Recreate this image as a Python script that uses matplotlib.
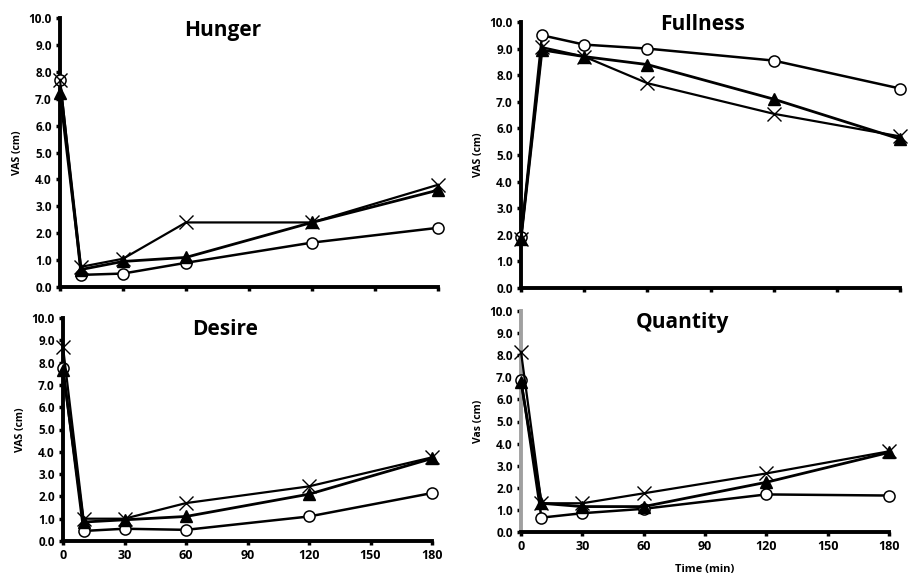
import matplotlib.pyplot as plt

plt.rcParams['font.family'] = ['Open Sans', 'DejaVu Sans']

# time points (min)
times = [0, 10, 30, 60, 120, 180]

# Hunger
hunger_circle = [7.7, 0.45, 0.5, 0.9, 1.65, 2.2]
hunger_triangle = [7.2, 0.65, 0.95, 1.1, 2.4, 3.6]
hunger_cross = [7.7, 0.75, 1.05, 2.4, 2.4, 3.8]

# Fullness
full_circle = [1.9, 9.5, 9.15, 9.0, 8.55, 7.5]
full_triangle = [1.85, 8.95, 8.7, 8.4, 7.1, 5.6]
full_cross = [1.85, 9.05, 8.7, 7.7, 6.55, 5.7]

# Desire
desire_circle = [7.75, 0.45, 0.55, 0.5, 1.1, 2.15]
desire_triangle = [7.65, 0.85, 0.95, 1.1, 2.1, 3.7]
desire_cross = [8.7, 1.0, 1.0, 1.7, 2.45, 3.75]

# Quantity
qty_circle = [6.9, 0.65, 0.85, 1.05, 1.7, 1.65]
qty_triangle = [6.8, 1.3, 1.15, 1.15, 2.25, 3.6]
qty_cross = [8.15, 1.3, 1.3, 1.75, 2.65, 3.65]

xticks = [0, 30, 60, 90, 120, 150, 180]
yticks = [0, 1, 2, 3, 4, 5, 6, 7, 8, 9, 10]

W, H = 908, 574
fig = plt.figure(figsize=(W / 100, H / 100), dpi=100)


def make_ax(x0, x1, y0, y1):
    # pixel box (top-origin) -> figure fraction
    return fig.add_axes([x0 / W, 1 - y1 / H, (x1 - x0) / W, (y1 - y0) / H])


def panel(ax, circ, tri, cross, title, tx, ty, ylabel, show_xlabels, spine_col='black'):
    ax.plot(times, circ, color='black', lw=1.8, marker='o', ms=8, mfc='white',
            mew=1.1, clip_on=False, zorder=3)
    ax.plot(times, tri, color='black', lw=2.0, marker='^', ms=8,
            clip_on=False, zorder=4)
    ax.plot(times, cross, color='black', lw=1.6, marker='x', ms=10, mew=1.0,
            clip_on=False, zorder=5)
    ax.set_xlim(0, 180)
    ax.set_ylim(0, 10)
    ax.set_xticks(xticks)
    ax.set_yticks(yticks)
    ax.set_yticklabels(['%.1f' % v for v in yticks], fontsize=8.5, fontweight='bold')
    if show_xlabels:
        ax.set_xticklabels([str(v) for v in xticks], fontsize=9, fontweight='bold')
    else:
        ax.set_xticklabels([])
    ax.tick_params(axis='both', direction='out', length=3, width=2.5, pad=3)
    for s in ['top', 'right']:
        ax.spines[s].set_visible(False)
    ax.spines['bottom'].set_linewidth(2.8)
    ax.spines['left'].set_linewidth(2.8)
    ax.spines['left'].set_color(spine_col)
    ax.set_ylabel(ylabel, fontsize=7.5, fontweight='bold', labelpad=4)
    ax.text(tx, ty, title, transform=ax.transAxes, ha='center', va='center',
            fontsize=15, fontweight='bold')


ax1 = make_ax(60, 438, 18, 287)
panel(ax1, hunger_circle, hunger_triangle, hunger_cross, 'Hunger', 0.43, 0.955,
      'VAS (cm)', False)

ax2 = make_ax(521, 900, 22, 288)
panel(ax2, full_circle, full_triangle, full_cross, 'Fullness', 0.48, 0.99,
      'VAS (cm)', False)

ax3 = make_ax(63, 432, 318, 541)
panel(ax3, desire_circle, desire_triangle, desire_cross, 'Desire', 0.44, 0.95,
      'VAS (cm)', True)
ax3.set_xlabel('Time (min)', fontsize=8, fontweight='bold', labelpad=14)

ax4 = make_ax(521, 889, 311, 532)
panel(ax4, qty_circle, qty_triangle, qty_cross, 'Quantity', 0.44, 0.95,
      'Vas (cm)', True, spine_col='#a0a0a0')
ax4.set_xlabel('Time (min)', fontsize=8, fontweight='bold', labelpad=8)

fig.savefig('out.png', dpi=100)
